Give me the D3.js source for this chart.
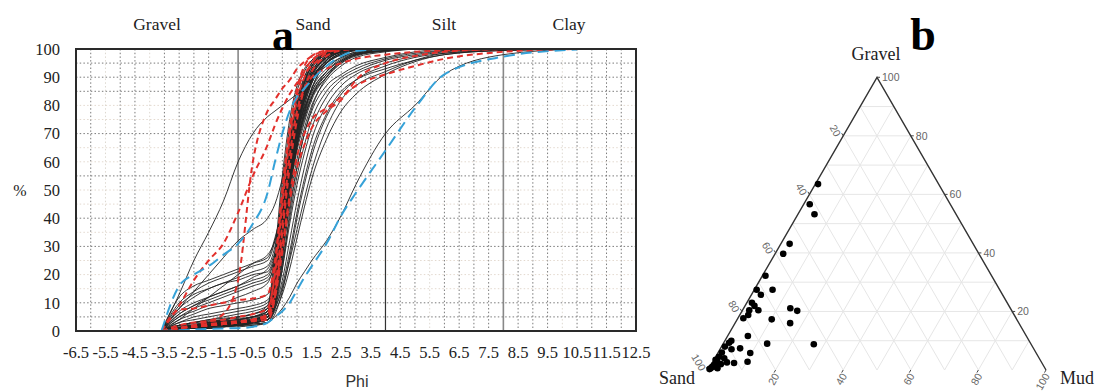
<!DOCTYPE html>
<html>
<head>
<meta charset="utf-8">
<script src="https://cdn.jsdelivr.net/npm/d3@7"></script>
<style>
  body { margin: 0; background: #fff; }
  svg { display: block; }
</style>
</head>
<body>
<svg id="chart" width="1096" height="392"></svg>
<script>
// ---- panel a data: cumulative % at each phi step ----
const phiGrid = [-3.6, -3, -2.5, -2, -1.5, -1, -0.5, 0, 0.25, 0.5, 0.75, 1, 1.25, 1.5, 2, 2.5, 3, 4, 5, 6, 8, 10.5];

const blackCurves = [
  [0,1,1,2,2,3,3,5,14,38,60,76,87,93,98,99.5,100],
  [0,0.5,1,1,1.5,2,2.5,3,10,30,55,73,82,88,95,98,99.5,100],
  [0,1,2,2,3,3,4,6,20,45,66,80,89,94,98,99.5,100],
  [0,1,1,1.5,2,2,3,4,12,28,48,65,75,83,92,96.5,98.5,99.7,100],
  [0,2,2,3,3,4,5,7,22,48,68,82,90,95,98.5,99.6,100],
  [0,0.5,1,1,1.5,2,2,3,8,22,42,58,70,79,90,95.5,98,99.5,100],
  [0,1,1.5,2,2.5,3,4,6,16,40,62,78,88,94,98,99.5,100],
  [0,2,3,3.5,4,4.5,5,7,18,36,56,70,79,86,93,97,98.8,99.7,100],
  [0,1,2,3,3.5,4,5,8,25,52,72,85,92,96,99,99.8,100],
  [0,0.5,1,1.5,2,2.5,3,4,9,25,48,66,76,83,91,95.5,98,99.3,100],
  [0,1,1.5,2,3,3.5,4,5,12,32,55,72,84,91,97,99,99.8,100],
  [0,2,3,4,4.5,5,6,9,28,55,75,87,93,96,99,99.7,100],
  [0,1,1,1.5,2,2,3,5,15,35,58,75,86,93,98,99.5,100],
  [0,1,2,2.5,3,3.5,4,6,13,30,50,64,74,82,90,95,97.5,99.3,100],
  [0,0.5,1,1,1.5,2,3,4,11,33,57,74,85,92,97.5,99.3,100],
  [0,1,1.5,2,2.5,3,4,6,19,42,63,76,84,89,95,98,99.5,100],
  [0,2,2.5,3,3.5,4,5,6,14,30,52,68,78,85,92,96,98.5,99.6,100],
  [0,1,1.5,2,2,2.5,3,5,17,44,66,80,89,94,98.5,99.7,100],
  [0,1,2,2.5,3,3.5,4,7,20,40,58,70,79,85,92,96,98.3,99.5,100],
  [0,0.5,1,1.5,2,2.5,3,4,10,26,46,61,72,80,89,94,97,99,100],
  [0,1,2,3,4,5,6,8,16,34,54,68,77,84,91,95.5,98,99.5,100],
  [0,1,1.5,2,2.5,3,4,5,13,36,60,77,88,94,98.5,99.6,100],
  [0,1,1.5,2,2.5,3,3.5,5,16,40,62,78,88,94,98.5,99.7,100],
  [0,1.5,2,2.5,3,3.5,4.5,6,18,43,64,77,85,90,95.5,98.5,99.6,100],
  [0,0.5,1,1.5,2,2.5,3,4,14,37,59,75,86,92,97.5,99.4,100],
  [0,1,2,3,3.5,4,5,7,21,46,67,81,90,95,98.8,99.8,100],
  [0,1,1.5,2,2.5,3,3.5,5,12,29,50,66,76,83,90,95,97.8,99.4,100],
  [0,2,3,3.5,4,5,6,8,20,41,61,74,83,89,95,98,99.5,100],
  // gravelly samples
  [0,5,8,10,12,14,16,18,24,38,56,72,84,91,97,99.5,100],
  [0,8,12,15,17,19,21,23,30,45,62,76,86,92,97.5,99.5,100],
  [0,4,6,8,9,10,11,13,20,36,55,71,83,90,97,99.3,100],
  [0,10,14,17,19,21,23,25,32,46,62,75,85,91,97,99.3,100],
  [0,6,9,11,13,15,17,19,26,40,57,71,82,89,96,99,99.8,100],
  [0,3,5,6,7,8,9,11,18,34,54,70,82,90,96.5,99,100],
  [0,7,10,12,14,16,19,22,28,40,54,67,78,86,95,98.5,99.7,100],
  [0,12,16,18,20,22,24,26,33,44,58,70,80,88,96,99,100],
  [0,5,7,9,10,12,14,17,25,42,60,74,85,91,97,99.5,100],
  [0,9,13,15,17,18,20,21,27,38,52,66,77,86,95,98.5,99.7,100],
  [0,3,4,5,6,7,8,10,17,33,52,69,81,89,96,99,100],
  [0,6,9,12,14,16,18,20,26,38,54,68,80,88,96,99,100],
  [0,13,25,35,46,60,70,76,78,80,82,84,86,89,94,97,99,100],
  [0,8,14,20,26,32,36,40,45,54,66,77,86,92,97,99.5,100],
  [0,4,8,12,16,20,24,27,32,42,57,71,82,89,96,99,100],
  // finer samples
  [0,1,1.5,2,2.5,3,4,5,9,18,32,46,58,68,80,87,91,95,97.5,99,100],
  [0,0.5,1,1,1.5,2,2.5,3,6,14,26,40,52,62,76,84,89,94,97,98.5,99.5,100],
  [0,1,2,2.5,3,3.5,4,6,12,24,40,55,66,75,85,90,93,96.5,98.5,99.5,100],
  [0,1,1,1.5,2,2,3,4,8,16,28,42,54,64,77,85,89,93,96,98,99.5,100],
  [0,2,3,4,5,6,7,9,15,28,44,58,70,78,87,91,94,97,99,100],
  [0,1,1.5,2,2,2.5,3,4,7,13,22,33,44,54,68,78,84,91,95.5,98,99.5,100],
  [0,0.5,1,1.5,2,2.5,3,4,10,22,38,52,63,72,83,89,92,96,98,99.3,100],
  [0,1,2,2,3,3,4,5,8,15,25,36,47,57,72,82,87,92,96,98.5,99.7,100],
  [0,0.5,1,1,1.5,1.5,2,3,5,8,12,17,21,25,32,41,52,70,80,91,98,100]
];

const redCurves = [
  [0,9,18,25,31,42,55,66,73,79,84,88,91.5,94,98.5,100],
  [0,7.5,8,9,10,11,11.5,13,25,48,70,84,92,96,99,100],
  [0,2,3,3.5,4,5,6,8,20,45,68,82,90,95,99,100],
  [0,1,1.5,2,2.5,3,4,6,14,30,48,62,70,75,79,83,87,91,94,96.5,99,100],
  [0,1,2,2.5,3,3.5,4,5,12,28,46,58,66,72,78,82,89,95,97.5,99,100],
  [0,1,1.5,2,2.5,3,4,5,15,38,62,78,86,90,93,95,96.5,98,99,99.5,100],
  [0,1,1.5,2,2.5,3,4,6,22,50,72,86,94,97.5,99.5,100],
  [0,1,2,3.5,6,18,60,78,82,86,89,93,95.5,97.5,99.3,100],
  [0,1,1.5,2,2.5,3,3.5,4,12,35,58,75,86,92,97.5,99.5,100]
];

const blueCurves = [
  [0,16,20,23,27,31,38,49,60,70,78,83,86,89,94,97.5,99.3,100],
  [0,0.3,0.5,0.7,0.9,1,1.5,3,5,7,10,14.5,19,23,31,41,49,64,79,91,97.3,99.8]
];

const xTickLabels = [-6.5,-5.5,-4.5,-3.5,-2.5,-1.5,-0.5,0.5,1.5,2.5,3.5,4.5,5.5,6.5,7.5,8.5,9.5,10.5,11.5,12.5];
const yTickLabels = [0,10,20,30,40,50,60,70,80,90,100];
const classNames = ["Gravel", "Sand", "Silt", "Clay"];
const classBounds = [-1, 4, 8];
const gridDarkY = [5,10,30,40,55,70,85,90,95];
const gridLightY = [15,20,25,35,45,50,60,65,75,80];
const gridLightX = [-5.5,-4,-1.5,0,2,5.5,10];

// ---- panel b data: gravel / sand / mud % ----
const gravelPct = [63.5,56.6,53.2,43.1,39.7,32.2,27.4,27.4,25.7,23,21.9,20.4,20.4,18.8,17.7,21.1,20.2,17.3,16,11.6,10,9.3,9,8.8,8,7.1,7.4,6,5.8,4.5,4,2.6,2.4,2.8,2.7,2,1.7,1.1,1.1,0.6,0.6,0.3,3.5];
const sandPct   = [35.7,41.6,41.9,54.3,57.9,66.9,71.9,67.2,71.5,75.5,75.3,74.9,77.6,78.7,80.7,65.1,63.5,72.5,67.7,82.4,88.1,89.1,78,64.3,91,89.5,86.8,92.9,84.6,94.5,93.2,93.1,91.1,86.9,95.9,95.2,97.4,98.2,97.2,98.9,96.9,99.4,96];
const mudPct    = [0.8,1.8,4.9,2.6,2.4,0.9,0.7,5.4,2.8,1.5,2.8,4.7,2,2.5,1.6,13.8,16.3,10.2,16.3,6,1.9,1.6,13,26.9,1,3.4,5.8,1.1,9.6,1,2.8,4.3,6.5,10.3,1.4,2.8,0.9,0.7,1.7,0.5,2.5,0.3,0.5];
const ternaryTicks = [20, 40, 60, 80, 100];

const svg = d3.select("#chart");
const serif = "'Liberation Serif', 'Times New Roman', serif";
const sans = "'Liberation Sans', Arial, sans-serif";

// ================= panel a =================
const plot = { left: 76, right: 636, top: 49, bottom: 331 };
const x = d3.scaleLinear().domain([-6.5, 12.5]).range([plot.left, plot.right]);
const y = d3.scaleLinear().domain([0, 100]).range([plot.bottom, plot.top]);

const grid = svg.append("g");
const allX = d3.range(-6, 12.01, 0.5).filter(v => !classBounds.includes(v));
grid.selectAll("line.vx").data(allX).join("line")
  .attr("x1", d => x(d)).attr("x2", d => x(d))
  .attr("y1", plot.top).attr("y2", plot.bottom)
  .attr("stroke", d => gridLightX.includes(d) ? "#ddd8d0" : "#7a7a7a")
  .attr("stroke-width", 1)
  .attr("stroke-dasharray", "1.5,2.2");
grid.selectAll("line.hy").data(gridLightY).join("line")
  .attr("x1", plot.left).attr("x2", plot.right)
  .attr("y1", d => y(d)).attr("y2", d => y(d))
  .attr("stroke", "#e3d9cf").attr("stroke-dasharray", "1.5,2.2");
grid.selectAll("line.hd").data(gridDarkY).join("line")
  .attr("x1", plot.left).attr("x2", plot.right)
  .attr("y1", d => y(d)).attr("y2", d => y(d))
  .attr("stroke", "#7a7a7a").attr("stroke-dasharray", "1.5,2.2");

grid.selectAll("line.bound").data(classBounds).join("line")
  .attr("x1", d => x(d)).attr("x2", d => x(d))
  .attr("y1", plot.top).attr("y2", plot.bottom)
  .attr("stroke", (d, i) => i === 1 ? "#333" : "#888")
  .attr("stroke-width", (d, i) => i === 1 ? 1.2 : 1.6);

svg.append("clipPath").attr("id", "clip")
  .append("rect").attr("x", plot.left).attr("y", plot.top - 2)
  .attr("width", plot.right - plot.left).attr("height", plot.bottom - plot.top + 2);

const line = d3.line()
  .x(d => x(d[0])).y(d => y(d[1]))
  .curve(d3.curveMonotoneX);

function toPoints(row) {
  const pts = [];
  for (let i = 0; i < row.length; i++) {
    pts.push([phiGrid[i], row[i]]);
    if (row[i] >= 100) break;
  }
  return pts;
}

const curves = svg.append("g").attr("clip-path", "url(#clip)");
curves.selectAll("path.black").data(blackCurves).join("path")
  .attr("d", d => line(toPoints(d)))
  .attr("fill", "none").attr("stroke", "#222").attr("stroke-width", 0.9);
curves.selectAll("path.red").data(redCurves).join("path")
  .attr("d", d => line(toPoints(d)))
  .attr("fill", "none").attr("stroke", "#e2302c").attr("stroke-width", 2)
  .attr("stroke-dasharray", "6,4");
curves.selectAll("path.blue").data(blueCurves).join("path")
  .attr("d", d => line(toPoints(d)))
  .attr("fill", "none").attr("stroke", "#36a2d8").attr("stroke-width", 2)
  .attr("stroke-dasharray", "11,6");

svg.append("rect")
  .attr("x", plot.left).attr("y", plot.top)
  .attr("width", plot.right - plot.left).attr("height", plot.bottom - plot.top)
  .attr("fill", "none").attr("stroke", "#2a2a2a").attr("stroke-width", 2);

// axis labels
svg.append("g").selectAll("text").data(xTickLabels).join("text")
  .attr("x", d => x(d)).attr("y", 358)
  .attr("text-anchor", "middle")
  .attr("font-family", serif).attr("font-size", 16.5).attr("fill", "#222")
  .text(d => d);
svg.append("g").selectAll("text").data(yTickLabels).join("text")
  .attr("x", 60).attr("y", d => y(d)).attr("dy", "0.35em")
  .attr("text-anchor", "end")
  .attr("font-family", serif).attr("font-size", 16.5).attr("fill", "#222")
  .text(d => d);

svg.append("text").attr("x", 20).attr("y", 190).attr("dy", "0.35em")
  .attr("text-anchor", "middle").attr("font-family", serif).attr("font-size", 16)
  .attr("fill", "#222").text("%");
svg.append("text").attr("x", 357).attr("y", 387)
  .attr("text-anchor", "middle").attr("font-family", sans).attr("font-size", 16)
  .attr("fill", "#333").text("Phi");

const classX = [157, 313, 444, 569];
svg.append("g").selectAll("text").data(classNames).join("text")
  .attr("x", (d, i) => classX[i]).attr("y", 30)
  .attr("text-anchor", "middle").attr("font-family", serif).attr("font-size", 17.5)
  .attr("fill", "#222").text(d => d);

svg.append("text").attr("x", 283).attr("y", 50)
  .attr("text-anchor", "middle").attr("font-family", serif)
  .attr("font-weight", "bold").attr("font-size", 44).text("a");

// ================= panel b =================
const tri = { left: 708, right: 1046, bottom: 370 };
const side = tri.right - tri.left;
const h = side * Math.sqrt(3) / 2;
const tx = d3.scaleLinear().domain([0, 100]).range([tri.left, tri.right]);
const ty = d3.scaleLinear().domain([0, 100]).range([tri.bottom, tri.bottom - h]);
// mud pushes right, gravel pushes up (and half right)
const px = (g, m) => tx(m + g / 2);
const py = g => ty(g);

const tern = svg.append("g");
const steps = d3.range(10, 100, 10);
// gravel constant (horizontal)
tern.selectAll("line.g").data(steps).join("line")
  .attr("x1", d => px(d, 0)).attr("y1", d => py(d))
  .attr("x2", d => px(d, 100 - d)).attr("y2", d => py(d))
  .attr("stroke", "#e6e6e6");
// mud constant
tern.selectAll("line.m").data(steps).join("line")
  .attr("x1", d => px(0, d)).attr("y1", py(0))
  .attr("x2", d => px(100 - d, d)).attr("y2", d => py(100 - d))
  .attr("stroke", "#e6e6e6");
// sand constant
tern.selectAll("line.s").data(steps).join("line")
  .attr("x1", d => px(0, 100 - d)).attr("y1", py(0))
  .attr("x2", d => px(100 - d, 0)).attr("y2", d => py(100 - d))
  .attr("stroke", "#e6e6e6");

tern.append("path")
  .attr("d", `M${px(0, 0)},${py(0)}L${px(100, 0)},${py(100)}L${px(0, 100)},${py(0)}`)
  .attr("fill", "none").attr("stroke", "#333").attr("stroke-width", 1.4);

const tickFont = { family: sans, size: 10.5, color: "#666" };
// sand ticks on left edge
tern.selectAll("text.s").data(ternaryTicks).join("text")
  .attr("transform", d => `translate(${px(100 - d, 0) - 5},${py(100 - d)}) rotate(60)`)
  .attr("text-anchor", "end").attr("dy", "0.35em")
  .attr("font-family", tickFont.family).attr("font-size", tickFont.size).attr("fill", tickFont.color)
  .text(d => d);
// gravel ticks on right edge
tern.selectAll("text.g").data(ternaryTicks).join("text")
  .attr("x", d => px(d, 100 - d) + 5).attr("y", d => py(d)).attr("dy", "0.35em")
  .attr("font-family", tickFont.family).attr("font-size", tickFont.size).attr("fill", tickFont.color)
  .text(d => d);
// mud ticks on bottom edge
tern.selectAll("text.m").data(ternaryTicks).join("text")
  .attr("transform", d => `translate(${px(0, d) + 1},${py(0) + 4}) rotate(-60)`)
  .attr("text-anchor", "end").attr("dy", "0.35em")
  .attr("font-family", tickFont.family).attr("font-size", tickFont.size).attr("fill", tickFont.color)
  .text(d => d);

// small tick marks
tern.selectAll("line.tg").data(ternaryTicks).join("line")
  .attr("x1", d => px(d, 100 - d)).attr("y1", d => py(d))
  .attr("x2", d => px(d, 100 - d) + 3).attr("y2", d => py(d))
  .attr("stroke", "#444");
tern.selectAll("line.ts").data(ternaryTicks).join("line")
  .attr("x1", d => px(100 - d, 0)).attr("y1", d => py(100 - d))
  .attr("x2", d => px(100 - d, 0) - 1.5).attr("y2", d => py(100 - d) - 2.6)
  .attr("stroke", "#444");
tern.selectAll("line.tm").data(ternaryTicks).join("line")
  .attr("x1", d => px(0, d)).attr("y1", py(0))
  .attr("x2", d => px(0, d) - 1.5).attr("y2", py(0) + 2.6)
  .attr("stroke", "#444");

const samples = gravelPct.map((g, i) => ({ g, s: sandPct[i], m: mudPct[i] }));
tern.selectAll("circle").data(samples).join("circle")
  .attr("cx", d => px(d.g, d.m)).attr("cy", d => py(d.g))
  .attr("r", 3.3).attr("fill", "#000");

svg.append("text").attr("x", 876).attr("y", 60).attr("text-anchor", "middle")
  .attr("font-family", serif).attr("font-size", 18).attr("fill", "#222").text("Gravel");
svg.append("text").attr("x", 677).attr("y", 384).attr("text-anchor", "middle")
  .attr("font-family", serif).attr("font-size", 18).attr("fill", "#222").text("Sand");
svg.append("text").attr("x", 1077).attr("y", 384).attr("text-anchor", "middle")
  .attr("font-family", serif).attr("font-size", 18).attr("fill", "#222").text("Mud");
svg.append("text").attr("x", 923).attr("y", 50).attr("text-anchor", "middle")
  .attr("font-family", serif).attr("font-weight", "bold").attr("font-size", 46).text("b");
</script>
</body>
</html>
